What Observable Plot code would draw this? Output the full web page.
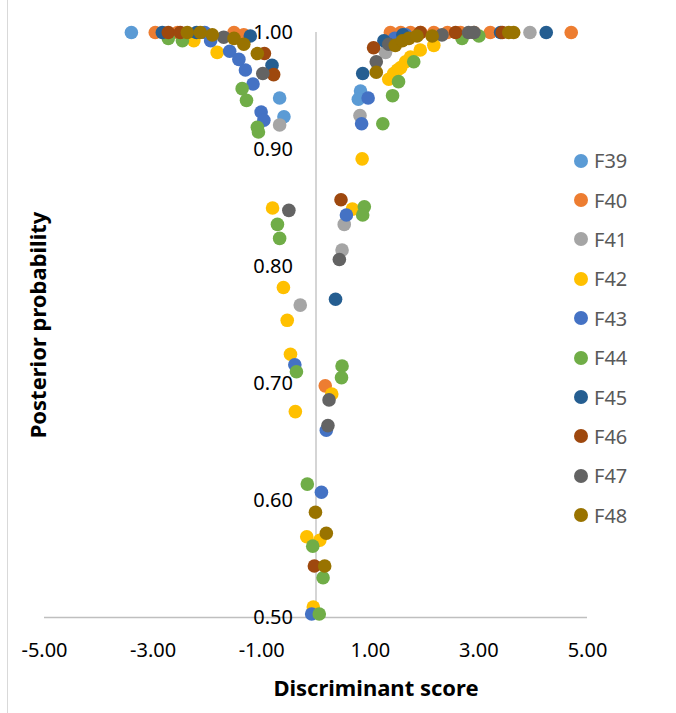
<!DOCTYPE html>
<html>
<head>
<meta charset="utf-8">
<script src="https://cdn.jsdelivr.net/npm/d3@7"></script>
<script src="https://cdn.jsdelivr.net/npm/@observablehq/plot@0.6"></script>
<style>
  html, body { margin: 0; padding: 0; background: #fff; }
  #wrap { position: relative; width: 676px; height: 713px; overflow: hidden; }
  #border { position: absolute; left: 7px; top: 0; width: 0; height: 713px; border-left: 1px solid #D9D9D9; }
  #legend { position: absolute; left: 574px; top: 141px; font-family: "Noto Sans", sans-serif; font-size: 20px; color: #595959; }
  .li { display: flex; align-items: center; height: 39.4px; }
  .sw { width: 14px; height: 14px; border-radius: 50%; margin-right: 6px; }
</style>
</head>
<body>
<div id="wrap"><div id="border"></div><div id="chart"></div><div id="legend"></div></div>
<script>
// Series names and colours
const seriesNames = ["F39","F40","F41","F42","F43","F44","F45","F46","F47","F48"];
const seriesColors = ["#5B9BD5","#ED7D31","#A5A5A5","#FFC000","#4472C4","#70AD47","#255E91","#9E480E","#636363","#997300"];

// [discriminant score, posterior probability]
const F39 = [[-3.40,1.000],[-0.67,0.944],[-0.59,0.928],[0.82,0.950],[0.78,0.943],[1.50,0.998]];
const F40 = [[-2.96,1.000],[-2.55,1.000],[-1.51,1.000],[-1.33,0.998],[1.37,1.000],[1.56,1.000],[1.74,1.000],[1.93,1.000],[2.17,1.000],[2.42,1.000],[2.66,1.000],[2.91,1.000],[3.21,1.000],[4.70,1.000],[0.17,0.698]];
const F41 = [[-0.67,0.921],[-0.29,0.767],[0.52,0.836],[0.48,0.814],[0.81,0.929],[1.28,0.983],[3.94,1.000]];
const F42 = [[-2.25,0.993],[-1.82,0.983],[-0.80,0.850],[-0.60,0.782],[-0.53,0.754],[-0.47,0.725],[-0.38,0.676],[0.85,0.892],[0.67,0.849],[0.29,0.691],[-0.17,0.569],[0.07,0.566],[-0.05,0.509],[1.34,0.960],[1.43,0.965],[1.50,0.968],[1.56,0.970],[1.65,0.975],[1.74,0.979],[1.92,0.985],[2.17,0.989]];
const F43 = [[-2.05,1.000],[-1.94,0.993],[-1.59,0.984],[-1.42,0.977],[-1.30,0.968],[-1.16,0.956],[-1.01,0.932],[-0.96,0.925],[-0.39,0.716],[0.56,0.844],[0.19,0.660],[0.10,0.607],[-0.08,0.503],[0.96,0.944],[0.84,0.922],[1.45,0.995],[1.65,0.998]];
const F44 = [[-2.72,0.995],[-2.46,0.993],[-1.36,0.952],[-1.28,0.942],[-1.08,0.919],[-1.06,0.915],[-0.71,0.836],[-0.67,0.824],[-0.36,0.710],[0.89,0.851],[0.86,0.844],[0.48,0.715],[0.47,0.705],[-0.16,0.614],[-0.06,0.561],[0.13,0.534],[0.06,0.503],[1.80,0.975],[1.52,0.958],[1.41,0.946],[1.23,0.922],[2.69,0.995],[3.00,0.997]];
const F45 = [[-2.83,1.000],[-2.20,1.000],[-1.21,0.997],[-0.81,0.972],[0.36,0.772],[0.86,0.965],[1.25,0.993],[1.60,0.998],[3.40,1.000],[4.24,1.000]];
const F46 = [[-2.72,1.000],[-2.50,1.000],[-0.95,0.982],[-0.78,0.964],[0.46,0.857],[-0.03,0.544],[1.06,0.987],[1.92,1.000],[2.57,1.000],[3.43,1.000]];
const F47 = [[-1.70,0.996],[-0.98,0.965],[-0.50,0.848],[0.43,0.806],[0.24,0.686],[0.22,0.664],[1.11,0.975],[1.34,0.990],[2.32,0.998],[2.81,1.000],[2.91,1.000]];
const F48 = [[-2.37,1.000],[-2.13,1.000],[-1.91,0.998],[-1.51,0.995],[-1.33,0.990],[-1.08,0.982],[-0.01,0.590],[0.19,0.572],[0.16,0.544],[1.11,0.966],[1.46,0.989],[1.59,0.993],[1.71,0.995],[1.86,0.997],[2.14,0.997],[3.55,1.000],[3.64,1.000]];
const seriesData = [F39,F40,F41,F42,F43,F44,F45,F46,F47,F48];

// Axis ticks
const xTicks = [-5, -3, -1, 1, 3, 5];
const yTicks = [0.5, 0.6, 0.7, 0.8, 0.9, 1.0];
const xTitle = "Discriminant score";
const yTitle = "Posterior probability";

const points = seriesData.flatMap((arr, i) => arr.map(([x, y]) => ({series: seriesNames[i], x, y})));

const font = '"Noto Sans", sans-serif';
const chart = Plot.plot({
  width: 676,
  height: 713,
  marginLeft: 44,
  marginRight: 89,
  marginTop: 32,
  marginBottom: 96,
  style: {fontFamily: font, background: "#fff"},
  x: {domain: [-5, 5], axis: null},
  y: {domain: [0.5, 1.0], axis: null},
  color: {domain: seriesNames, range: seriesColors},
  marks: [
    Plot.ruleY([0.5], {x1: -5, x2: 5, stroke: "#BFBFBF", strokeWidth: 1.3}),
    Plot.ruleX([0], {y1: 0.5, y2: 1.0, stroke: "#BFBFBF", strokeWidth: 1.3}),
    Plot.text(yTicks, {x: 0, y: d => d, text: d => d3.format(".2f")(d), textAnchor: "end", dx: -23, fontSize: 20, fill: "#000"}),
    Plot.text(xTicks, {x: d => d, y: 0.5, text: d => d3.format(".2f")(d).replace("−", "-"), dy: 33, fontSize: 20, fill: "#000"}),
    Plot.dot(points, {x: "x", y: "y", fill: "series", r: 6.8, stroke: "none"}),
    Plot.text([xTitle], {frameAnchor: "bottom", textAnchor: "middle", lineAnchor: "middle", dx: 60, dy: 71, fontSize: 22, fontWeight: "bold", fill: "#000"}),
    Plot.text([yTitle], {frameAnchor: "left", textAnchor: "middle", lineAnchor: "middle", dx: -6, rotate: -90, fontSize: 22, fontWeight: "bold", fill: "#000"})
  ]
});
document.getElementById("chart").appendChild(chart);

const legend = document.getElementById("legend");
seriesNames.forEach((name, i) => {
  const row = document.createElement("div");
  row.className = "li";
  row.innerHTML = `<span class="sw" style="background:${seriesColors[i]}"></span><span>${name}</span>`;
  legend.appendChild(row);
});
</script>
</body>
</html>
